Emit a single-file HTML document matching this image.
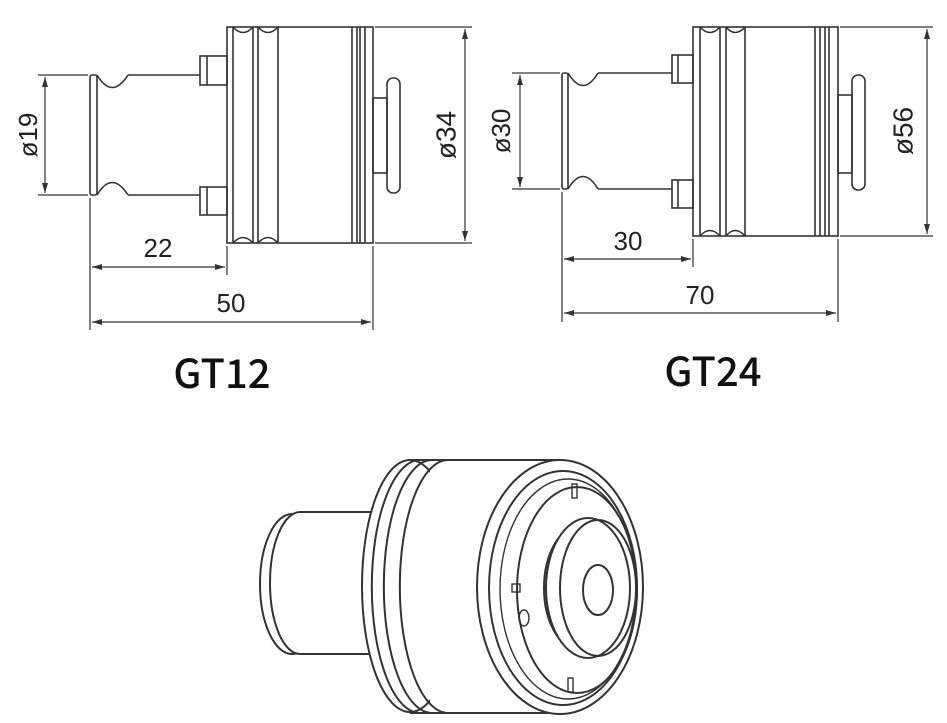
<!DOCTYPE html>
<html><head><meta charset="utf-8"><style>
html,body{margin:0;padding:0;background:#fff;}
svg{display:block}
text{font-family:"Liberation Sans",sans-serif;fill:#222}
.lbl{font-family:"Noto Sans CJK SC","Liberation Sans",sans-serif;font-weight:500;fill:#111}
</style></head><body>
<svg width="947" height="723" viewBox="0 0 947 723" xmlns="http://www.w3.org/2000/svg">
<defs>
<marker id="a" viewBox="0 0 10 6" refX="10" refY="3" markerWidth="14" markerHeight="6" markerUnits="userSpaceOnUse" orient="auto-start-reverse"><path d="M0,0 L10,3 L0,6 Z" fill="#333"/></marker>
</defs>
<g fill="none" stroke="#333" stroke-width="1.6">
<rect x="90" y="75" width="7" height="120" rx="2"/>
<path d="M97,75 Q112,100 128,75 M97,195 Q112,170 128,195"/>
<line x1="128" y1="75" x2="200" y2="75"/><line x1="128" y1="195" x2="200" y2="195"/>
<rect x="200" y="56" width="27" height="29"/><line x1="207" y1="56" x2="207" y2="85"/>
<rect x="200" y="187" width="27" height="28"/><line x1="207" y1="187" x2="207" y2="215"/>
<rect x="227" y="27" width="146" height="216"/>
<path d="M233,27V243 M253,27V243 M258,27V243 M278,27V243 M352,27V243 M357,27V243 M360,27V243 M365,27V243"/>
<path d="M233,27 Q243,38 253,27 M258,27 Q268,38 278,27 M233,243 Q243,232 253,243 M258,243 Q268,232 278,243"/>
<rect x="373" y="98" width="14" height="75"/>
<rect x="387" y="78" width="13" height="115" rx="6"/>
<g stroke-width="1.2">
<path d="M38,75H88 M38,195H88 M90,198V330 M227,246V275 M373,246V330 M375,27H472 M375,243H472"/>
<line x1="45" y1="77" x2="45" y2="193" marker-start="url(#a)" marker-end="url(#a)"/>
<line x1="465" y1="29" x2="465" y2="241" marker-start="url(#a)" marker-end="url(#a)"/>
<line x1="92" y1="267" x2="225" y2="267" marker-start="url(#a)" marker-end="url(#a)"/>
<line x1="92" y1="322" x2="371" y2="322" marker-start="url(#a)" marker-end="url(#a)"/>
</g>
<rect x="562" y="73" width="6" height="116" rx="2"/>
<path d="M568,73 Q583,98 598,73 M568,189 Q583,164 598,189"/>
<line x1="598" y1="73" x2="672" y2="73"/><line x1="598" y1="189" x2="672" y2="189"/>
<rect x="672" y="55" width="21" height="28"/><line x1="678" y1="55" x2="678" y2="83"/>
<rect x="672" y="180" width="21" height="28"/><line x1="678" y1="180" x2="678" y2="208"/>
<rect x="693" y="27" width="145" height="209"/>
<path d="M700,27V236 M720,27V236 M726,27V236 M745,27V236 M815,27V236 M820,27V236 M825,27V236 M829,27V236"/>
<path d="M700,27 Q710,38 720,27 M726,27 Q735,38 745,27 M700,236 Q710,225 720,236 M726,236 Q735,225 745,236"/>
<rect x="838" y="95" width="14" height="78"/>
<rect x="852" y="75" width="13" height="115" rx="6"/>
<g stroke-width="1.2">
<path d="M512,73H560 M512,189H560 M562,192V322 M693,239V267 M838,239V322 M840,27H933 M840,236H933"/>
<line x1="520" y1="75" x2="520" y2="187" marker-start="url(#a)" marker-end="url(#a)"/>
<line x1="927" y1="29" x2="927" y2="234" marker-start="url(#a)" marker-end="url(#a)"/>
<line x1="564" y1="259" x2="691" y2="259" marker-start="url(#a)" marker-end="url(#a)"/>
<line x1="564" y1="313" x2="836" y2="313" marker-start="url(#a)" marker-end="url(#a)"/>
</g>
<g stroke-width="2" fill="#fff">
<ellipse cx="292" cy="584" rx="32" ry="70"/>
<path d="M295,512 L370,512 L370,654 L295,654 Z" stroke="none"/>
<path d="M300,512H372 M300,654H372"/>
<path d="M300,512 A30,71 0 0 0 300,654"/>
<ellipse cx="410" cy="586" rx="48" ry="126"/>
<path d="M430,460 L560,460 L560,713 L430,713 Z" stroke="none"/>
<path d="M420,460 A48,126 0 0 0 420,713" fill="none"/>
<path d="M432,460 A48,126 0 0 0 432,713" fill="none"/>
<path d="M448,460 A48,126 0 0 0 448,713" fill="none"/>
<path d="M410,460 H560 M410,713H560" fill="none"/>
<ellipse cx="560" cy="587" rx="83" ry="127"/>
<ellipse cx="563" cy="588" rx="74" ry="117" fill="none"/>
<ellipse cx="568" cy="589" rx="68" ry="110" fill="none" stroke-width="1.4"/>
<ellipse cx="577" cy="590" rx="60" ry="103" fill="none"/>
<ellipse cx="580" cy="588" rx="36" ry="62" fill="none"/>
<ellipse cx="588" cy="588" rx="42" ry="70"/>
<ellipse cx="598" cy="588" rx="38" ry="68" fill="none"/>
<ellipse cx="598" cy="590" rx="15" ry="25" fill="none"/>
<rect x="572" y="484" width="5" height="14" fill="none" stroke-width="1.4"/>
<rect x="568" y="678" width="5" height="14" fill="none" stroke-width="1.4"/>
<rect x="512" y="584" width="8" height="8" fill="none" stroke-width="1.4"/>
<ellipse cx="524" cy="618" rx="5" ry="8" fill="none" stroke-width="1.4"/>
</g>
</g>
<text x="30" y="135" font-size="26" transform="rotate(-90 30 135)" text-anchor="middle" dominant-baseline="middle">ø19</text>
<text x="448" y="135" font-size="28" transform="rotate(-90 448 135)" text-anchor="middle" dominant-baseline="middle">ø34</text>
<text x="503" y="131" font-size="26" transform="rotate(-90 503 131)" text-anchor="middle" dominant-baseline="middle">ø30</text>
<text x="905" y="131" font-size="28" transform="rotate(-90 905 131)" text-anchor="middle" dominant-baseline="middle">ø56</text>
<text x="158" y="257" font-size="26" text-anchor="middle">22</text>
<text x="231" y="312" font-size="26" text-anchor="middle">50</text>
<text x="628" y="250" font-size="26" text-anchor="middle">30</text>
<text x="700" y="304" font-size="26" text-anchor="middle">70</text>
<text class="lbl" x="222" y="388" font-size="40" text-anchor="middle">GT12</text>
<text class="lbl" x="713" y="386" font-size="40" text-anchor="middle">GT24</text>
</svg>
</body></html>
